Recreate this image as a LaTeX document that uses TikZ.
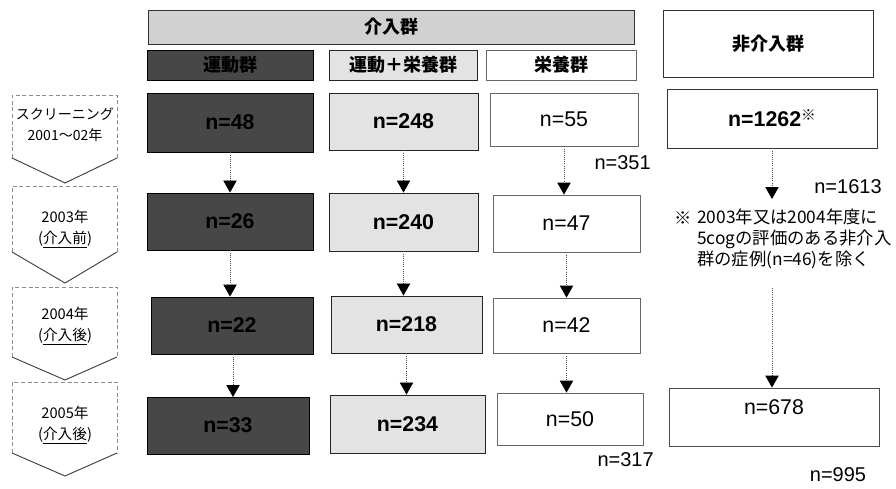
\documentclass[tikz,border=0pt]{standalone}
\usepackage{fontspec}
\setmainfont{Liberation Sans}
\newfontfamily\jp{Noto Sans CJK JP}
\usetikzlibrary{arrows.meta}
\begin{document}
\begin{tikzpicture}[x=0.75pt,y=-0.75pt,
  sz/.style 2 args={minimum width={#1*0.75pt}, minimum height={#2*0.75pt}},
  box/.style={draw, inner sep=0pt, line width=0.7pt},
  hdrbox/.style={box, fill=black!18, draw=black!80},
  darkbox/.style={box, fill=black!72, draw=black},
  midbox/.style={box, fill=black!11, draw=black!85},
  whitebox/.style={box, fill=white, draw=black!60, line width=0.6pt},
  hdr/.style={font=\jp\fontsize{13.5}{15}\selectfont\bfseries},
  numb/.style={font=\fontsize{16}{18}\selectfont\bfseries},
  numr/.style={font=\fontsize{16}{18}\selectfont},
  outl/.style={font=\fontsize{15}{17}\selectfont, inner sep=0pt},
  lbl/.style={font=\jp\fontsize{11}{16}\selectfont, align=center, inner sep=0pt},
  arr/.style={draw=black!70, line width=0.6pt, densely dotted, -{Triangle[width=10pt,length=9pt,color=black]}},
  chevside/.style={draw=black!45, line width=0.6pt, densely dashed},
  chevv/.style={draw=black!75, line width=0.7pt}
]
\useasboundingbox (0,0) rectangle (896,489);

% headers
\node[hdrbox, sz={486}{34}] (hdr) at (391,27) {};
\node[hdr] (hdrt) at (391,27) {介入群};
\node[darkbox, sz={166}{30}, hdr] (h1) at (230,65) {運動群};
\node[midbox, sz={148}{30}, hdr] (h2) at (403,65) {運動＋栄養群};
\node[whitebox, sz={150}{30}, hdr] (h3) at (561,65) {栄養群};
\node[whitebox, draw=black!80, sz={210}{67}, hdr] (h4) at (768,43.5) {非介入群};

% row 1
\node[darkbox, sz={166}{59}, numb] (d1) at (230,122.5) {n=48};
\node[midbox, sz={149}{57}, numb] (m1) at (403.5,121.5) {n=248};
\node[whitebox, sz={148}{53}, numr] (w1) at (564,119.5) {n=55};
\node[whitebox, draw=black!80, sz={210}{59}, numb] (n1262) at (772,118.5) {n=1262\raisebox{0.55ex}{\jp\fontsize{11}{12}\selectfont ※}};
% row 2
\node[darkbox, sz={166}{57}, numb] (d2) at (230,221.5) {n=26};
\node[midbox, sz={149}{58}, numb] (m2) at (403.5,222) {n=240};
\node[whitebox, sz={147}{57}, numr] (w2) at (566.5,223.5) {n=47};
% row 3
\node[darkbox, sz={162}{57}, numb] (d3) at (232,325.5) {n=22};
\node[midbox, sz={151}{57}, numb] (m3) at (406.5,324.5) {n=218};
\node[whitebox, sz={147}{55}, numr] (w3) at (566.5,325.5) {n=42};
% row 4
\node[darkbox, sz={162}{57}, numb] (d4) at (228,425.5) {n=33};
\node[midbox, sz={155}{58}, numb] (m4) at (407.5,424) {n=234};
\node[whitebox, sz={146}{52}, numr] (w4) at (570,419) {n=50};
\node[whitebox, draw=black!70, sz={210}{58}] (n678) at (774,417) {};
\node[numr] (n678t) at (774,407) {n=678};

% outside labels
\node[outl, anchor=east] (l351) at (651,163) {n=351};
\node[outl, anchor=east] (l317) at (654,460) {n=317};
\node[outl] (l1613) at (848,187) {n=1613};
\node[outl] (l995) at (838,475) {n=995};

% note
\node[font=\jp\fontsize{13}{15}\selectfont, inner sep=0pt] (kome) at (683,218) {※};
\node[font=\jp\fontsize{13}{15.75}\selectfont, inner sep=0pt, align=left, anchor=west] (note) at (697,239)
  {2003年又は2004年度に\\5cogの評価のある非介入\\群の症例(n=46)を除く};

% arrows
\draw[arr] (d1) -- (d1 |- d2.north);
\draw[arr] (d2) -- (d2 |- d3.north);
\draw[arr] (d3.south -| 233,0) -- (233,397);
\draw[arr] (m1) -- (m1 |- m2.north);
\draw[arr] (m2) -- (m2 |- m3.north);
\draw[arr] (m3) -- (m3 |- m4.north);
\draw[arr] (w1) -- (w1 |- w2.north);
\draw[arr] (w2) -- (w2 |- w3.north);
\draw[arr] (w3) -- (w3 |- w4.north);
\coordinate (t1613) at (772,199);
\draw[arr] (n1262) -- (t1613);
\coordinate (s678) at (772,288);
\draw[arr] (s678) -- (s678 |- n678.north);

% chevrons
\draw[chevside] (12,158) -- (12,95) -- (117,95) -- (117,158);
\draw[chevv] (12,158) -- (65,183) -- (117,158);
\node[lbl, font=\jp\fontsize{10.5}{16}\selectfont] (c1) at (65,125) {スクリーニング\\2001～02年};
\draw[chevside] (12,252) -- (12,186) -- (117,186) -- (117,252);
\draw[chevv] (12,252) -- (65,283) -- (117,252);
\node[lbl] (c2) at (65,229) {2003年\\(\underline{介入前})};
\draw[chevside] (12,357) -- (12,287) -- (117,287) -- (117,357);
\draw[chevv] (12,357) -- (65,380) -- (117,357);
\node[lbl] (c3) at (65,326) {2004年\\(\underline{介入後})};
\draw[chevside] (12,453) -- (12,382) -- (117,382) -- (117,453);
\draw[chevv] (12,453) -- (65,476) -- (117,453);
\node[lbl] (c4) at (65,425) {2005年\\(\underline{介入後})};
\end{tikzpicture}
\end{document}
